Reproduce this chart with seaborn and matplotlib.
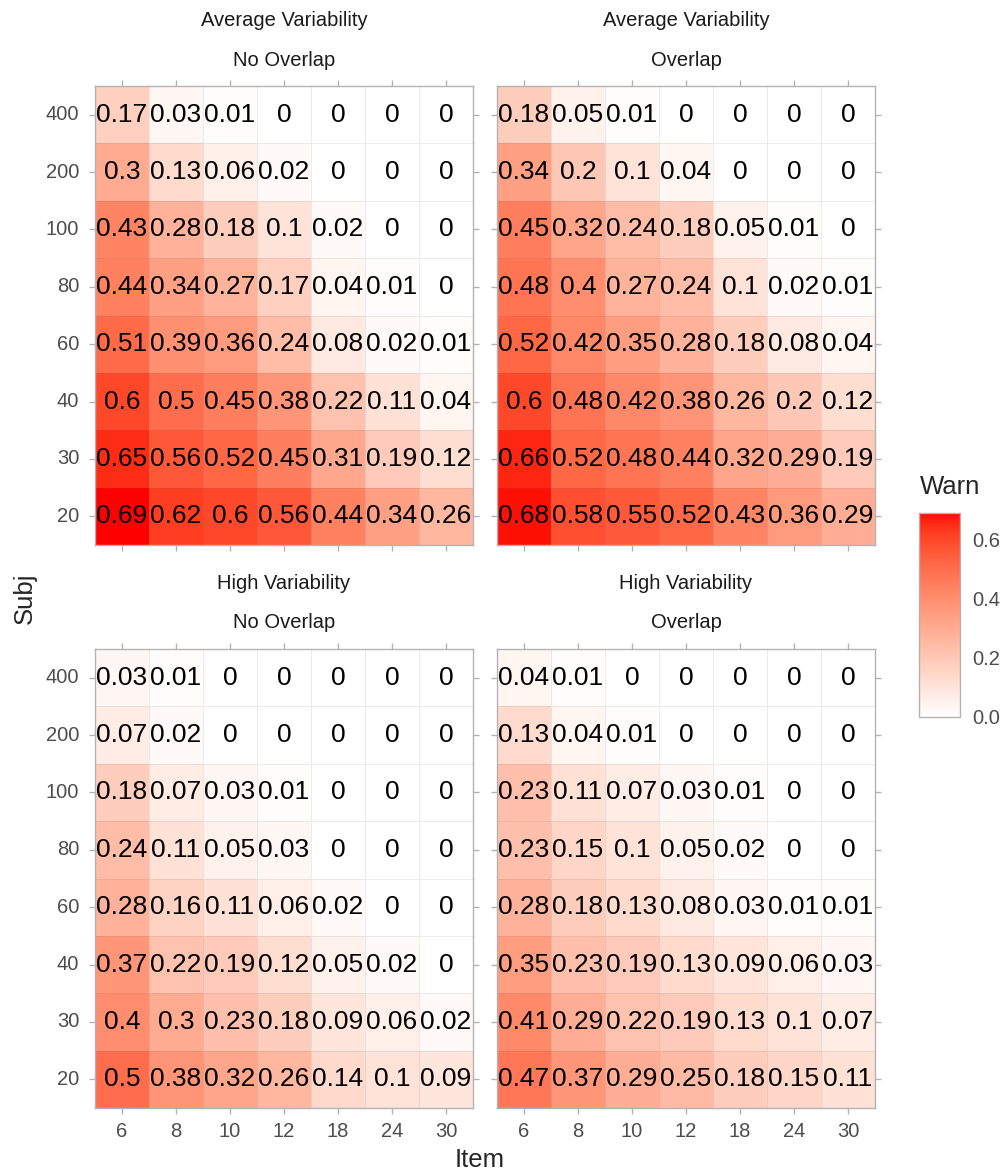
import numpy as np
import pandas as pd
import matplotlib
matplotlib.use("Agg")
import matplotlib.pyplot as plt
import seaborn as sns
from matplotlib.colors import ListedColormap, Normalize
from matplotlib.cm import ScalarMappable

sns.set_style("white")
plt.rcParams['font.family'] = ['Liberation Sans', 'DejaVu Sans']

items = [6, 8, 10, 12, 18, 24, 30]
subjs = [400, 200, 100, 80, 60, 40, 30, 20]
panel_titles = [("Average Variability", "No Overlap"), ("Average Variability", "Overlap"),
                ("High Variability", "No Overlap"), ("High Variability", "Overlap")]

# rows = Subj (400 -> 20), columns = Item (6 -> 30)
avg_no_overlap = [
    [0.17, 0.03, 0.01, 0, 0, 0, 0],
    [0.3, 0.13, 0.06, 0.02, 0, 0, 0],
    [0.43, 0.28, 0.18, 0.1, 0.02, 0, 0],
    [0.44, 0.34, 0.27, 0.17, 0.04, 0.01, 0],
    [0.51, 0.39, 0.36, 0.24, 0.08, 0.02, 0.01],
    [0.6, 0.5, 0.45, 0.38, 0.22, 0.11, 0.04],
    [0.65, 0.56, 0.52, 0.45, 0.31, 0.19, 0.12],
    [0.69, 0.62, 0.6, 0.56, 0.44, 0.34, 0.26],
]
avg_overlap = [
    [0.18, 0.05, 0.01, 0, 0, 0, 0],
    [0.34, 0.2, 0.1, 0.04, 0, 0, 0],
    [0.45, 0.32, 0.24, 0.18, 0.05, 0.01, 0],
    [0.48, 0.4, 0.27, 0.24, 0.1, 0.02, 0.01],
    [0.52, 0.42, 0.35, 0.28, 0.18, 0.08, 0.04],
    [0.6, 0.48, 0.42, 0.38, 0.26, 0.2, 0.12],
    [0.66, 0.52, 0.48, 0.44, 0.32, 0.29, 0.19],
    [0.68, 0.58, 0.55, 0.52, 0.43, 0.36, 0.29],
]
high_no_overlap = [
    [0.03, 0.01, 0, 0, 0, 0, 0],
    [0.07, 0.02, 0, 0, 0, 0, 0],
    [0.18, 0.07, 0.03, 0.01, 0, 0, 0],
    [0.24, 0.11, 0.05, 0.03, 0, 0, 0],
    [0.28, 0.16, 0.11, 0.06, 0.02, 0, 0],
    [0.37, 0.22, 0.19, 0.12, 0.05, 0.02, 0],
    [0.4, 0.3, 0.23, 0.18, 0.09, 0.06, 0.02],
    [0.5, 0.38, 0.32, 0.26, 0.14, 0.1, 0.09],
]
high_overlap = [
    [0.04, 0.01, 0, 0, 0, 0, 0],
    [0.13, 0.04, 0.01, 0, 0, 0, 0],
    [0.23, 0.11, 0.07, 0.03, 0.01, 0, 0],
    [0.23, 0.15, 0.1, 0.05, 0.02, 0, 0],
    [0.28, 0.18, 0.13, 0.08, 0.03, 0.01, 0.01],
    [0.35, 0.23, 0.19, 0.13, 0.09, 0.06, 0.03],
    [0.41, 0.29, 0.22, 0.19, 0.13, 0.1, 0.07],
    [0.47, 0.37, 0.29, 0.25, 0.18, 0.15, 0.11],
]
panels = [avg_no_overlap, avg_overlap, high_no_overlap, high_overlap]


# white -> red gradient interpolated in CIELAB (like ggplot's scale_fill_gradient)
WHITE_XYZ = np.array([0.95047, 1.0, 1.08883])
M = np.array([[0.4124, 0.3576, 0.1805], [0.2126, 0.7152, 0.0722], [0.0193, 0.1192, 0.9505]])

def to_lab(rgb):
    c = np.array(rgb, float)
    lin = np.where(c <= 0.04045, c / 12.92, ((c + 0.055) / 1.055) ** 2.4)
    t = M @ lin / WHITE_XYZ
    f = np.where(t > 0.008856, np.cbrt(t), 7.787 * t + 16 / 116)
    return np.array([116 * f[1] - 16, 500 * (f[0] - f[1]), 200 * (f[1] - f[2])])

def from_lab(lab):
    fy = (lab[0] + 16) / 116
    f = np.array([fy + lab[1] / 500, fy, fy - lab[2] / 200])
    t = np.where(f ** 3 > 0.008856, f ** 3, (f - 16 / 116) / 7.787) * WHITE_XYZ
    lin = np.linalg.solve(M, t)
    lin = np.clip(lin, 0, 1)
    c = np.where(lin <= 0.0031308, 12.92 * lin, 1.055 * lin ** (1 / 2.4) - 0.055)
    return np.clip(c, 0, 1)

lab0, lab1 = to_lab([1, 1, 1]), to_lab([1, 0, 0])
cmap = ListedColormap([from_lab(lab0 + (lab1 - lab0) * s) for s in np.linspace(0, 1, 256)])
vmin, vmax = 0, 0.69

fig = plt.figure(figsize=(10.06, 11.73), dpi=100)
W, H = 1006, 1173
pw, ph = 378, 459
lefts = [95, 497, 95, 497]
tops = [86, 86, 649, 649]
grey = "#B3B3B3"

for i, vals in enumerate(panels):
    ax = fig.add_axes([lefts[i] / W, 1 - (tops[i] + ph) / H, pw / W, ph / H])
    df = pd.DataFrame(vals, index=subjs, columns=items)
    labels = df.map(lambda v: f"{v:g}")
    sns.heatmap(df, ax=ax, cmap=cmap, vmin=vmin, vmax=vmax, cbar=False,
                annot=labels, fmt="", annot_kws={"fontsize": 19, "color": "black"},
                linewidths=0.5, linecolor=(0.4, 0.4, 0.4, 0.12))
    for sp in ax.spines.values():
        sp.set_visible(True)
        sp.set_color(grey)
        sp.set_linewidth(1)
    ax.tick_params(axis="both", direction="out", length=4.3, width=1, color=grey,
                   labelcolor="#4D4D4D", labelsize=14.5,
                   top=True, right=True, bottom=True, left=True,
                   labeltop=False, labelright=False)
    ax.tick_params(axis="y", pad=7)
    ax.tick_params(axis="x", pad=6)
    ax.set_yticklabels([str(s) for s in subjs], rotation=0)
    ax.set_xticklabels([str(t) for t in items], rotation=0)
    if i < 2:
        ax.tick_params(labelbottom=False)
    if i % 2 == 1:
        ax.tick_params(labelleft=False)
    ax.set_xlabel("")
    ax.set_ylabel("")
    cx = (lefts[i] + pw / 2) / W
    fig.text(cx, 1 - (tops[i] - 66) / H, panel_titles[i][0], ha="center", va="center",
             fontsize=14.5, color="#1A1A1A")
    fig.text(cx, 1 - (tops[i] - 26) / H, panel_titles[i][1], ha="center", va="center",
             fontsize=14.5, color="#1A1A1A")

fig.text(25 / W, 1 - 598 / H, "Subj", rotation=90, ha="center", va="center", fontsize=18.5)
fig.text(480 / W, 1 - 1160 / H, "Item", ha="center", va="center", fontsize=18.5)

# colour bar legend
cax = fig.add_axes([919 / W, 1 - 717 / H, 41 / W, 204 / H])
cb = fig.colorbar(ScalarMappable(norm=Normalize(vmin, vmax), cmap=cmap), cax=cax)
cb.set_ticks([0.0, 0.2, 0.4, 0.6])
cb.set_ticklabels(["0.0", "0.2", "0.4", "0.6"])
cb.outline.set_edgecolor(grey)
cb.outline.set_linewidth(1)
cax.tick_params(axis="y", direction="in", length=8, width=1, color="white",
                left=True, right=True, labelleft=False, labelright=True,
                labelsize=14.5, labelcolor="#4D4D4D", pad=9)
fig.text(920 / W, 1 - 487 / H, "Warn", ha="left", va="center", fontsize=18.5)

fig.savefig("out.png", dpi=100)
